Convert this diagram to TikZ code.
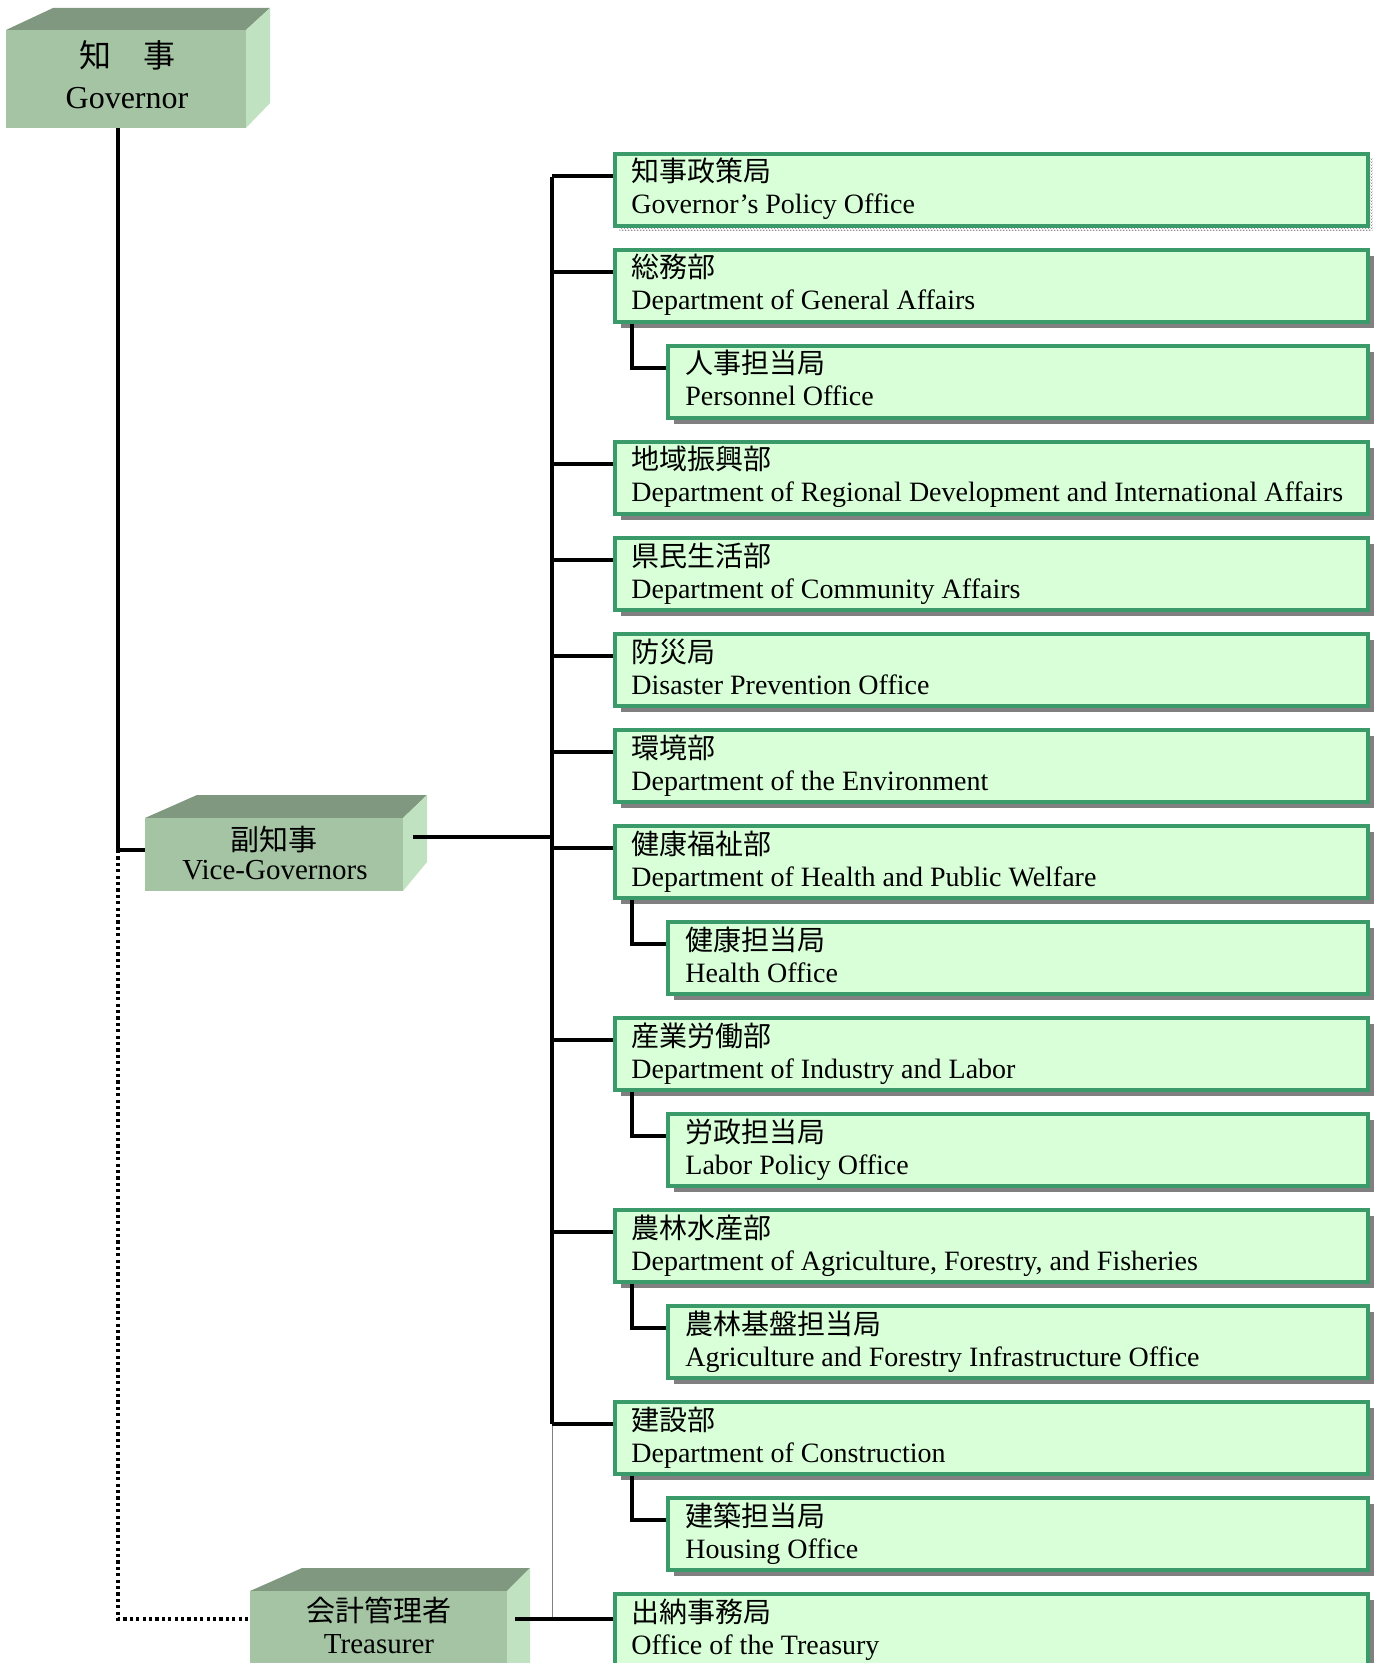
\documentclass[tikz,border=0pt]{standalone}
\usepackage{fontspec}
\setmainfont{Liberation Serif}
\newfontfamily\jpfont{Noto Sans CJK JP}
\usetikzlibrary{shadows,patterns}
\definecolor{boxfill}{RGB}{217,255,217}
\definecolor{boxline}{RGB}{58,154,106}
\definecolor{faceF}{RGB}{164,196,164}
\definecolor{faceT}{RGB}{128,152,128}
\definecolor{faceR}{RGB}{192,226,192}
\pgfdeclarepatternformonly{finechecker}{\pgfqpoint{0pt}{0pt}}{\pgfqpoint{1.5pt}{1.5pt}}{\pgfqpoint{1.5pt}{1.5pt}}{%
  \pgfpathrectangle{\pgfqpoint{0pt}{0pt}}{\pgfqpoint{0.75pt}{0.75pt}}%
  \pgfpathrectangle{\pgfqpoint{0.75pt}{0.75pt}}{\pgfqpoint{0.75pt}{0.75pt}}%
  \pgfusepath{fill}}
\newcommand\mainbox[4]{%
  \node[deptbox, minimum width=376.5pt] (#1) at (613,#2) {};
  \node[jptext] (#1jp) at (631,#2+30) {#3};
  \node[entext] (#1en) at (631,#2+62) {#4};
}
\newcommand\trunkconn[2]{%
  \coordinate (#1c) at (552,#2+24);
  \draw[conn] (#1c) -- (#1c -| #1.west);
}
\newcommand\subbox[5]{%
  \node[deptbox, minimum width=350pt] (#1) at (666,#2) {};
  \node[jptext] (#1jp) at (685,#2+30) {#3};
  \node[entext] (#1en) at (685,#2+62) {#4};
  \coordinate (#1c) at (632,#2+24);
  \draw[conn] (#1c |- #5.south) -- (#1c) -- (#1c -| #1.west);
}
\begin{document}
\begin{tikzpicture}[x=0.5pt,y=-0.5pt,
  deptbox/.style={draw=boxline, line width=2pt, fill=boxfill, minimum height=36pt,
    inner sep=0pt, anchor=north west,
    drop shadow={shadow xshift=3pt, shadow yshift=-3pt, fill=gray, opacity=1}},
  jptext/.style={font=\jpfont\fontsize{14pt}{16pt}\selectfont, inner sep=0pt, anchor=base west},
  entext/.style={font=\fontsize{14pt}{16pt}\selectfont, inner sep=0pt, anchor=base west},
  face/.style={fill=faceF, inner sep=0pt, anchor=center},
  conn/.style={line width=1.7pt, black},
  bigjp/.style={font=\jpfont\fontsize{16pt}{18pt}\selectfont, inner sep=0pt},
  bigen/.style={font=\fontsize{16pt}{18pt}\selectfont, inner sep=0pt},
  midjp/.style={font=\jpfont\fontsize{14.5pt}{16pt}\selectfont, inner sep=0pt},
  miden/.style={font=\fontsize{14.5pt}{16pt}\selectfont, inner sep=0pt}]
\useasboundingbox (0,0) rectangle (1379,1663);
\clip (0,0) rectangle (1379,1663);
\fill[white] (0,0) rectangle (1379,1663);

% Governor
\fill[faceT] (6,30) -- (53,8) -- (270,8) -- (246,30) -- cycle;
\fill[faceR] (246,30) -- (270,8) -- (270,103) -- (246,128) -- cycle;
\node[face, minimum width=120pt, minimum height=49pt] (gov) at (126,79) {};
\node[bigjp] (govjp) at (127,55) {知　事};
\node[bigen] (goven) at (127,98) {Governor};

% Vice-Governors
\fill[faceT] (145,818) -- (197,795) -- (427,795) -- (403,818) -- cycle;
\fill[faceR] (403,818) -- (427,795) -- (427,862) -- (403,891) -- cycle;
\node[face, minimum width=129pt, minimum height=36.5pt] (vice) at (274,854.5) {};
\node[midjp] (vicejp) at (274,840) {副知事};
\node[miden] (viceen) at (275,870) {Vice-Governors};

% Treasurer
\fill[faceT] (250,1591) -- (302,1568) -- (530,1568) -- (507,1591) -- cycle;
\fill[faceR] (507,1591) -- (530,1568) -- (530,1680) -- (507,1700) -- cycle;
\node[face, minimum width=128.5pt, minimum height=54.5pt] (treas) at (378.5,1645.5) {};
\node[midjp] (treasjp) at (379,1610) {会計管理者};
\node[miden] (treasen) at (379,1644) {Treasurer};

% trunk
\coordinate (ttop) at (552,177);
\coordinate (tbot) at (552,1424);
\coordinate (tend) at (552,1618);
\draw[line width=0.5pt, gray] (tbot) -- (tend);
\draw[conn] (ttop) -- (tbot);

% governor links
\coordinate (gcorner) at (118,850);
\draw[line width=1.6pt, dash pattern=on 1.6pt off 1.6pt] (gcorner) |- (treas.west |- 0,1619);
\draw[conn] ([xshift=-4pt]gov.south) |- (gcorner) -- (gcorner -| vice.west);
\coordinate (vr) at (413,837);
\draw[conn] (vr) -- (vr -| ttop);

% boxes
\node[draw=none, minimum width=376.5pt, minimum height=36pt, inner sep=0pt, anchor=north west,
  pattern=finechecker, pattern color=gray!85] (d1sh) at (619,158) {};
\node[draw=boxline, line width=2pt, fill=boxfill, minimum height=36pt, minimum width=376.5pt,
  inner sep=0pt, anchor=north west] (d1) at (613,152) {};
\node[jptext] (d1jp) at (631,182) {知事政策局};
\node[entext] (d1en) at (631,214) {Governor’s Policy Office};
\trunkconn{d1}{152}

\mainbox{d2}{248}{総務部}{Department of General Affairs}
\trunkconn{d2}{248}
\subbox{s3}{344}{人事担当局}{Personnel Office}{d2}
\mainbox{d4}{440}{地域振興部}{Department of Regional Development and International Affairs}
\trunkconn{d4}{440}
\mainbox{d5}{536}{県民生活部}{Department of Community Affairs}
\trunkconn{d5}{536}
\mainbox{d6}{632}{防災局}{Disaster Prevention Office}
\trunkconn{d6}{632}
\mainbox{d7}{728}{環境部}{Department of the Environment}
\trunkconn{d7}{728}
\mainbox{d8}{824}{健康福祉部}{Department of Health and Public Welfare}
\trunkconn{d8}{824}
\subbox{s9}{920}{健康担当局}{Health Office}{d8}
\mainbox{d10}{1016}{産業労働部}{Department of Industry and Labor}
\trunkconn{d10}{1016}
\subbox{s11}{1112}{労政担当局}{Labor Policy Office}{d10}
\mainbox{d12}{1208}{農林水産部}{Department of Agriculture, Forestry, and Fisheries}
\trunkconn{d12}{1208}
\subbox{s13}{1304}{農林基盤担当局}{Agriculture and Forestry Infrastructure Office}{d12}
\mainbox{d14}{1400}{建設部}{Department of Construction}
\trunkconn{d14}{1400}
\subbox{s15}{1496}{建築担当局}{Housing Office}{d14}
\mainbox{d16}{1592}{出納事務局}{Office of the Treasury}
\coordinate (tr) at (515,1619);
\draw[conn] (tr) -- (tr -| d16.west);
\end{tikzpicture}
\end{document}
